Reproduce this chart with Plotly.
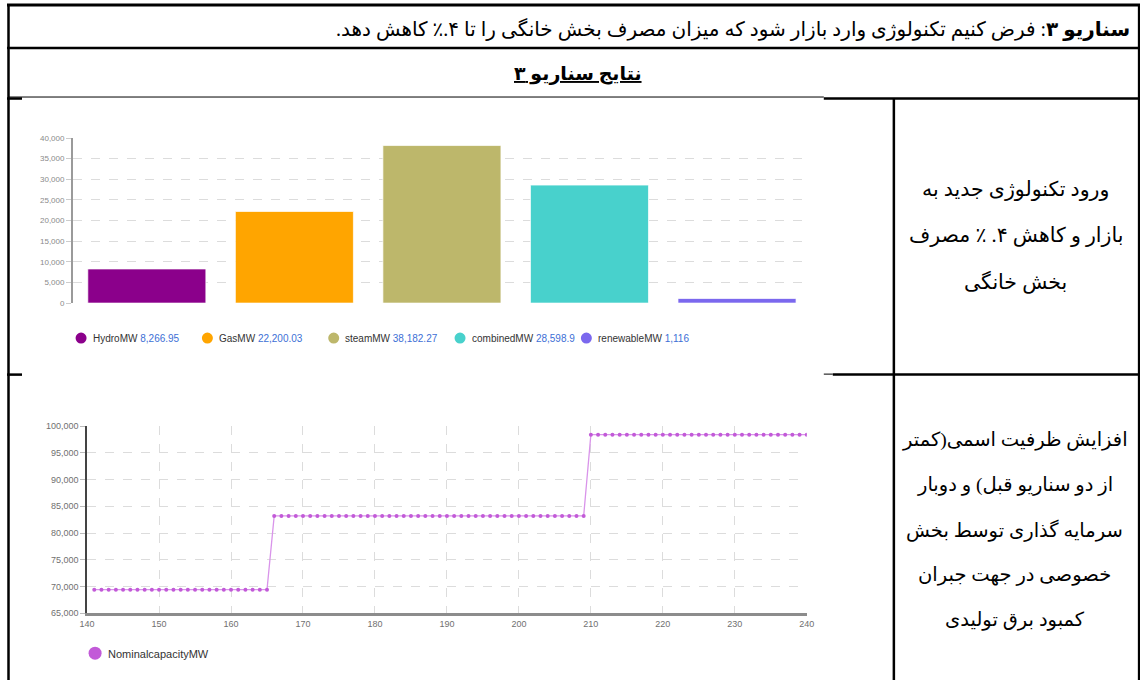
import plotly.graph_objects as go

W, H = 1140, 680
# the rendered page is shown slightly scaled/offset; map reference pixels to paper
SX, SY, OX, OY = 0.985, 0.985, 8.0, 6.0


def px(x):
    return ((x - OX) / SX) / W


def py(y):
    return 1 - ((y - OY) / SY) / H


# ---------------- data ----------------
bar_categories = ["HydroMW", "GasMW", "steamMW", "combinedMW", "renewableMW"]
bar_values = [8266.95, 22200.03, 38182.27, 28598.9, 1116]
bar_value_labels = ["8,266.95", "22,200.03", "38,182.27", "28,598.9", "1,116"]
bar_colors = ["#8b008b", "#ffa500", "#bdb76b", "#48d1cc", "#7b68ee"]
bar_yticks = [0, 5000, 10000, 15000, 20000, 25000, 30000, 35000, 40000]

line_name = "NominalcapacityMW"
line_x = list(range(141, 241))
line_y = [
    69400, 69400, 69400, 69400, 69400, 69400, 69400, 69400, 69400, 69400,
    69400, 69400, 69400, 69400, 69400, 69400, 69400, 69400, 69400, 69400,
    69400, 69400, 69400, 69400, 69400,
    83200, 83200, 83200, 83200, 83200, 83200, 83200, 83200, 83200, 83200,
    83200, 83200, 83200, 83200, 83200, 83200, 83200, 83200, 83200, 83200,
    83200, 83200, 83200, 83200, 83200, 83200, 83200, 83200, 83200, 83200,
    83200, 83200, 83200, 83200, 83200, 83200, 83200, 83200, 83200, 83200,
    83200, 83200, 83200, 83200,
    98400, 98400, 98400, 98400, 98400, 98400, 98400, 98400, 98400, 98400,
    98400, 98400, 98400, 98400, 98400, 98400, 98400, 98400, 98400, 98400,
    98400, 98400, 98400, 98400, 98400, 98400, 98400, 98400, 98400, 98400,
    98400,
]
line_xticks = [140, 150, 160, 170, 180, 190, 200, 210, 220, 230, 240]
line_yticks = [65000, 70000, 75000, 80000, 85000, 90000, 95000, 100000]

RLM = "\u200f"
header_bold = "سناریو ۳"
header_rest = ": فرض کنیم تکنولوژی وارد بازار شود که میزان مصرف بخش خانگی را تا ۴.٪ کاهش دهد."
title_text = "نتایج سناریو ۳"
cell1_lines = ["ورود تکنولوژی جدید به", "بازار و کاهش ۴. ٪ مصرف", "بخش خانگی"]
cell2_lines = [
    "افزایش ظرفیت اسمی(کمتر",
    "از دو سناریو قبل) و دوبار",
    "سرمایه گذاری توسط بخش",
    "خصوصی در جهت جبران",
    "کمبود برق تولیدی",
]

FA_FONT = "Liberation Serif, DejaVu Sans, serif"
TICK_FONT = "Arial, Liberation Sans, sans-serif"

fig = go.Figure()

# bar chart
fig.add_trace(go.Bar(
    x=bar_categories, y=bar_values,
    marker=dict(color=bar_colors, line=dict(color="rgba(255,255,255,0.7)", width=1)),
    xaxis="x", yaxis="y", showlegend=False, hoverinfo="x+y",
))

# line chart
fig.add_trace(go.Scatter(
    x=line_x, y=line_y, mode="lines+markers", name=line_name,
    line=dict(color="#d994ea", width=1.3),
    marker=dict(size=4, color="#c25ad8"),
    xaxis="x2", yaxis="y2", showlegend=False,
))

grid = dict(showgrid=True, gridcolor="#dcdcdc", griddash="dash", gridwidth=1)

fig.update_layout(
    width=W, height=H, autosize=False,
    margin=dict(l=0, r=0, t=0, b=0),
    paper_bgcolor="white", plot_bgcolor="rgba(0,0,0,0)",
    bargap=0.2,
    showlegend=False,
    xaxis=dict(domain=[px(73), px(810)], anchor="y", showticklabels=False,
               showgrid=False, zeroline=False, showline=False, ticks="",
               fixedrange=True),
    yaxis=dict(domain=[py(304), py(139)], anchor="x", range=[0, 40000],
               tickvals=bar_yticks, tickformat=",", zeroline=False,
               showline=True, linecolor="#9a9a9a", linewidth=2,
               ticks="outside", ticklen=5, tickcolor="#cccccc",
               tickfont=dict(family=TICK_FONT, size=8, color="#8a8a8a"),
               **grid),
    xaxis2=dict(domain=[px(87), px(806)], anchor="y2", range=[140, 240],
                tickvals=line_xticks, zeroline=False,
                showline=True, linecolor="#8c8c8c", linewidth=3, ticks="",
                tickfont=dict(family=TICK_FONT, size=9, color="#707070"),
                **grid),
    yaxis2=dict(domain=[py(614), py(427)], anchor="x2", range=[65000, 100000],
                tickvals=line_yticks, tickformat=",", zeroline=False,
                showline=True, linecolor="#444444", linewidth=1.5,
                ticks="outside", ticklen=5, tickcolor="#bbbbbb",
                tickfont=dict(family=TICK_FONT, size=9, color="#707070"),
                **grid),
)

shapes = []
annotations = []


def clampy(p):
    return min(max(p, 0.0015), 1.0)


def hline(x0, x1, y, w=2.5):
    shapes.append(dict(type="line", xref="paper", yref="paper",
                       x0=px(x0), x1=px(x1), y0=clampy(py(y)), y1=clampy(py(y)),
                       line=dict(color="black", width=w)))


def vline(x, y0, y1, w=2.5):
    shapes.append(dict(type="line", xref="paper", yref="paper",
                       x0=px(x), x1=px(x), y0=clampy(py(y0)), y1=py(y1),
                       line=dict(color="black", width=w)))


# table borders
hline(7, 1139, 2, 3)
vline(8.5, 0, 700)
vline(1138, 0, 700)
hline(7, 1139, 49)
hline(7, 22, 99.5)
hline(8, 823, 98, 1)
hline(823, 1139, 99.5)
vline(893, 99, 700)
hline(7, 22, 375.5)
hline(823, 832, 375, 1)
hline(832, 1139, 375.5)


def circle(cx, cy, r, color):
    shapes.append(dict(type="circle", xref="paper", yref="paper",
                       x0=px(cx - r), x1=px(cx + r), y0=py(cy + r), y1=py(cy - r),
                       fillcolor=color, line=dict(width=0)))


# bar chart legend
for i, (name, lab, col) in enumerate(zip(bar_categories, bar_value_labels, bar_colors)):
    cx = 81 + i * 126.2
    circle(cx, 339, 5.5, col)
    annotations.append(dict(
        xref="paper", yref="paper", x=px(cx + 9.5), y=py(339.5),
        xanchor="left", yanchor="middle", showarrow=False,
        text=f"{name} <span style='color:#3d6fd6'>{lab}</span>",
        font=dict(family=TICK_FONT, size=10, color="#333333"),
    ))

# line chart legend
circle(95, 654, 6.5, "#c25ad8")
annotations.append(dict(
    xref="paper", yref="paper", x=px(106), y=py(654.5),
    xanchor="left", yanchor="middle", showarrow=False, text=line_name,
    font=dict(family=TICK_FONT, size=11, color="#333333"),
))

# table texts
annotations.append(dict(
    xref="paper", yref="paper", x=px(1131), y=py(30),
    xanchor="right", yanchor="middle", showarrow=False,
    text=RLM + "<b>" + header_bold + "</b>" + header_rest + RLM,
    font=dict(family=FA_FONT, size=20, color="black"),
))
annotations.append(dict(
    xref="paper", yref="paper", x=px(577), y=py(75),
    xanchor="center", yanchor="middle", showarrow=False,
    text="<b><u>" + title_text + "</u></b>",
    font=dict(family=FA_FONT, size=19, color="black"),
))
for i, t in enumerate(cell1_lines):
    annotations.append(dict(
        xref="paper", yref="paper", x=px(1015), y=py(190 + i * 46.5),
        xanchor="center", yanchor="middle", showarrow=False,
        text=RLM + t + RLM, font=dict(family=FA_FONT, size=20.5, color="black"),
    ))
for i, t in enumerate(cell2_lines):
    annotations.append(dict(
        xref="paper", yref="paper", x=px(1014), y=py(441 + i * 45),
        xanchor="center", yanchor="middle", showarrow=False,
        text=RLM + t + RLM, font=dict(family=FA_FONT, size=19.5, color="black"),
    ))

fig.update_layout(shapes=shapes, annotations=annotations)

fig.write_html(
    "out.html",
    config={"displayModeBar": False},
    post_script="document.body.style.margin='0';document.body.style.overflow='hidden';",
)
